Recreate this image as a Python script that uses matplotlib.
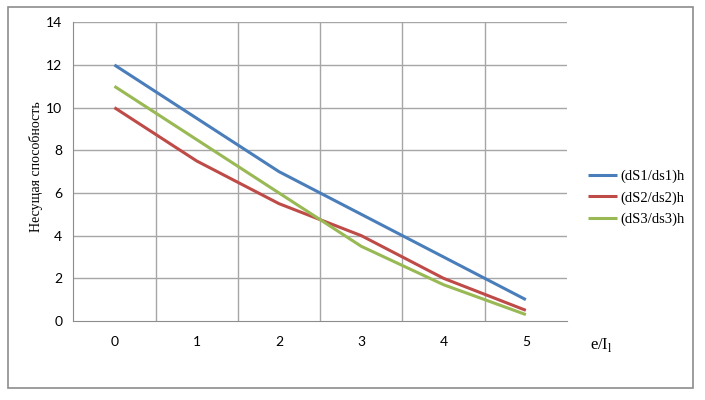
import matplotlib.pyplot as plt
from matplotlib.patches import Rectangle

# data
categories = ["0", "1", "2", "3", "4", "5"]
s1 = [12, 9.5, 7, 5, 3, 1]
s2 = [10, 7.5, 5.5, 4, 2, 0.5]
s3 = [11, 8.5, 6, 3.5, 1.7, 0.3]
labels = ["(dS1/ds1)h", "(dS2/ds2)h", "(dS3/ds3)h"]
colors = ["#4A7EBB", "#BE4B48", "#98B954"]

plt.rcParams['font.family'] = ['Liberation Serif', 'DejaVu Serif']

W, H = 705, 400
fig = plt.figure(figsize=(W / 100, H / 100), dpi=100)
fig.patch.set_facecolor('white')

# outer chart frame
fig.add_artist(Rectangle((8 / W, 1 - 388 / H), 685 / W, 381 / H,
                         transform=fig.transFigure, fill=False,
                         edgecolor='#8c8c8c', linewidth=1.2))

ax = fig.add_axes([73.3 / W, 1 - 321 / H, 493.7 / W, 298.7 / H])
x = list(range(len(categories)))
for ys, lab, c in zip([s1, s2, s3], labels, colors):
    ax.plot(x, ys, color=c, linewidth=2.2, label=lab, solid_capstyle='butt')

ax.set_xlim(-0.5, len(categories) - 0.5)
ax.set_ylim(0, 14)
ax.set_yticks(range(0, 15, 2))
ax.set_xticks(x)
ax.set_xticklabels(categories)

ax.grid(False)
for gy in range(2, 15, 2):
    ax.axhline(gy, color='#a6a6a6', linewidth=1.0, zorder=0)
for gx in [i + 0.5 for i in range(len(categories) - 1)]:
    ax.axvline(gx, color='#a6a6a6', linewidth=1.0, zorder=0)

for side in ['top', 'right']:
    ax.spines[side].set_visible(False)
ax.spines['left'].set_color('#8c8c8c')
ax.spines['bottom'].set_color('#8c8c8c')
ax.tick_params(axis='both', which='both', length=0, labelsize=10)
ax.tick_params(axis='x', pad=11)
ax.tick_params(axis='y', pad=8)
for t in ax.get_xticklabels() + ax.get_yticklabels():
    t.set_fontfamily(['Lato', 'DejaVu Sans'])

fig.text(36 / W, 1 - 167 / H, "Несущая способность", fontsize=10,
         rotation=90, ha='center', va='center')
fig.text(590 / W, 1 - 345 / H, "e/I$_\\mathregular{l}$", fontsize=12,
         ha='left', va='center')

ax.legend(loc='center left', bbox_to_anchor=(575 / W, 1 - 198 / H),
          bbox_transform=fig.transFigure, frameon=False,
          fontsize=10.5, handlelength=2.0, handletextpad=0.2, labelspacing=0.55)

fig.savefig("out.png", dpi=100)
